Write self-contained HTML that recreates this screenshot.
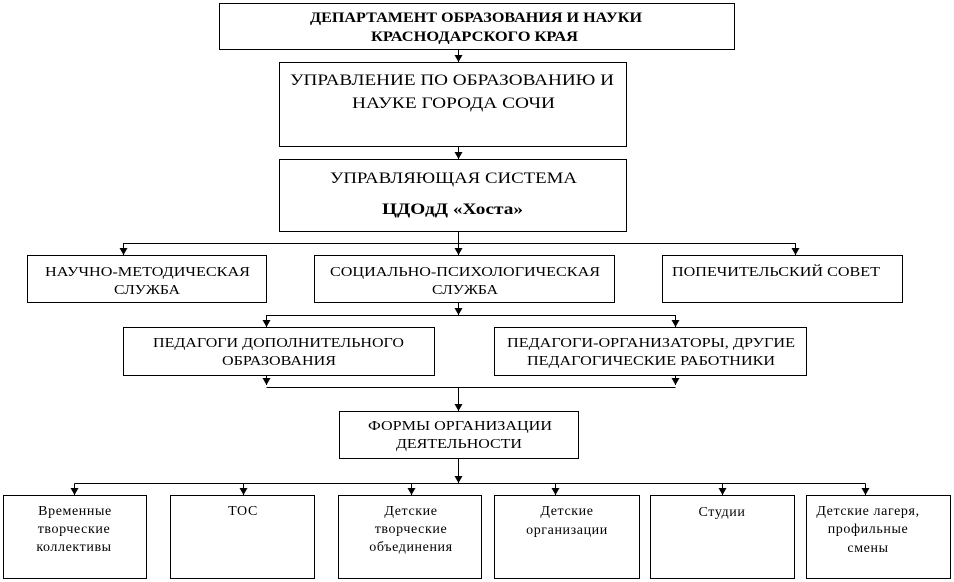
<!DOCTYPE html>
<html><head><meta charset="utf-8"><style>
html,body{margin:0;padding:0;background:#fff;}
svg{display:block;}
text{font-family:"Liberation Serif",serif;fill:#000;}
</style></head><body>
<svg width="954" height="582" viewBox="0 0 954 582" xmlns="http://www.w3.org/2000/svg">
<defs><marker id="a" markerWidth="7" markerHeight="8" refX="7" refY="4" orient="auto" markerUnits="userSpaceOnUse"><path d="M0,0 L7,4 L0,8 Z" fill="#000"/></marker></defs>
<g fill="none" stroke="#000" stroke-width="1">
<rect x="219.5" y="3.5" width="515" height="46"/>
<rect x="279.5" y="62.5" width="347" height="84"/>
<rect x="279.5" y="159.5" width="347" height="72"/>
<rect x="27.5" y="255.5" width="239" height="47"/>
<rect x="314.5" y="255.5" width="300" height="47"/>
<rect x="662.5" y="255.5" width="240" height="47"/>
<rect x="123.5" y="327.5" width="311" height="48"/>
<rect x="494.5" y="327.5" width="312" height="48"/>
<rect x="339.5" y="411.5" width="239" height="47"/>
<rect x="3.5" y="495.5" width="143" height="83"/>
<rect x="170.5" y="495.5" width="144" height="83"/>
<rect x="338.5" y="495.5" width="143" height="83"/>
<rect x="494.5" y="495.5" width="145" height="83"/>
<rect x="650.5" y="495.5" width="144" height="83"/>
<rect x="806.5" y="495.5" width="144" height="83"/>
<line x1="458.5" y1="49.5" x2="458.5" y2="62" marker-end="url(#a)"/>
<line x1="458.5" y1="146.5" x2="458.5" y2="159" marker-end="url(#a)"/>
<line x1="458.5" y1="231.5" x2="458.5" y2="255" marker-end="url(#a)"/>
<polyline points="123.5,255 123.5,243.5 795.5,243.5 795.5,255"/>
<line x1="123.5" y1="244" x2="123.5" y2="255" marker-end="url(#a)"/>
<line x1="795.5" y1="244" x2="795.5" y2="255" marker-end="url(#a)"/>
<line x1="458.5" y1="302.5" x2="458.5" y2="315" marker-end="url(#a)"/>
<polyline points="266.5,327 266.5,315.5 675.5,315.5 675.5,327"/>
<line x1="266.5" y1="316" x2="266.5" y2="327" marker-end="url(#a)"/>
<line x1="675.5" y1="316" x2="675.5" y2="327" marker-end="url(#a)"/>
<line x1="266.5" y1="375.5" x2="266.5" y2="385" marker-end="url(#a)"/>
<line x1="675.5" y1="375.5" x2="675.5" y2="385" marker-end="url(#a)"/>
<line x1="266.5" y1="387.5" x2="675.5" y2="387.5"/>
<line x1="458.5" y1="387.5" x2="458.5" y2="411" marker-end="url(#a)"/>
<line x1="458.5" y1="458.5" x2="458.5" y2="483" marker-end="url(#a)"/>
<line x1="74.5" y1="483.5" x2="865.5" y2="483.5"/>
<line x1="74.5" y1="483.5" x2="74.5" y2="495" marker-end="url(#a)"/>
<line x1="243.5" y1="483.5" x2="243.5" y2="495" marker-end="url(#a)"/>
<line x1="411.5" y1="483.5" x2="411.5" y2="495" marker-end="url(#a)"/>
<line x1="555.5" y1="483.5" x2="555.5" y2="495" marker-end="url(#a)"/>
<line x1="722.5" y1="483.5" x2="722.5" y2="495" marker-end="url(#a)"/>
<line x1="865.5" y1="483.5" x2="865.5" y2="495" marker-end="url(#a)"/>
</g>
<g font-size="15" font-weight="bold">
<text x="310" y="22" textLength="332" lengthAdjust="spacingAndGlyphs">ДЕПАРТАМЕНТ ОБРАЗОВАНИЯ И НАУКИ</text>
<text x="371" y="41" textLength="207" lengthAdjust="spacingAndGlyphs">КРАСНОДАРСКОГО КРАЯ</text>
<text x="382" y="214" textLength="141" lengthAdjust="spacingAndGlyphs" font-size="16">ЦДОдД «Хоста»</text>
</g>
<g font-size="16">
<text x="290" y="85" textLength="324" lengthAdjust="spacingAndGlyphs">УПРАВЛЕНИЕ ПО ОБРАЗОВАНИЮ И</text>
<text x="352" y="108" textLength="203" lengthAdjust="spacingAndGlyphs">НАУКЕ ГОРОДА СОЧИ</text>
<text x="330" y="183" textLength="247" lengthAdjust="spacingAndGlyphs">УПРАВЛЯЮЩАЯ СИСТЕМА</text>
</g>
<g font-size="14">
<text x="45" y="276" textLength="205" lengthAdjust="spacingAndGlyphs">НАУЧНО-МЕТОДИЧЕСКАЯ</text>
<text x="114" y="294" textLength="66" lengthAdjust="spacingAndGlyphs">СЛУЖБА</text>
<text x="330" y="276" textLength="270" lengthAdjust="spacingAndGlyphs">СОЦИАЛЬНО-ПСИХОЛОГИЧЕСКАЯ</text>
<text x="432" y="294" textLength="66" lengthAdjust="spacingAndGlyphs">СЛУЖБА</text>
<text x="672" y="276" textLength="208" lengthAdjust="spacingAndGlyphs">ПОПЕЧИТЕЛЬСКИЙ СОВЕТ</text>
<text x="153" y="347" textLength="251" lengthAdjust="spacingAndGlyphs">ПЕДАГОГИ ДОПОЛНИТЕЛЬНОГО</text>
<text x="222" y="365" textLength="114" lengthAdjust="spacingAndGlyphs">ОБРАЗОВАНИЯ</text>
<text x="507" y="347" textLength="288" lengthAdjust="spacingAndGlyphs">ПЕДАГОГИ-ОРГАНИЗАТОРЫ, ДРУГИЕ</text>
<text x="527" y="365" textLength="248" lengthAdjust="spacingAndGlyphs">ПЕДАГОГИЧЕСКИЕ РАБОТНИКИ</text>
<text x="368" y="430" textLength="184" lengthAdjust="spacingAndGlyphs">ФОРМЫ ОРГАНИЗАЦИИ</text>
<text x="396" y="448" textLength="126" lengthAdjust="spacingAndGlyphs">ДЕЯТЕЛЬНОСТИ</text>
</g>
<g font-size="14" text-anchor="middle" letter-spacing="0.6">
<text x="75" y="515">Временные</text>
<text x="74" y="533">творческие</text>
<text x="74" y="551">коллективы</text>
<text x="243" y="515">ТОС</text>
<text x="411" y="515">Детские</text>
<text x="411" y="533">творческие</text>
<text x="411" y="551">объединения</text>
<text x="567" y="515">Детские</text>
<text x="567" y="534">организации</text>
<text x="722" y="516">Студии</text>
<text x="868" y="515">Детские лагеря,</text>
<text x="868" y="533">профильные</text>
<text x="868" y="552">смены</text>
</g>
</svg>
</body></html>
